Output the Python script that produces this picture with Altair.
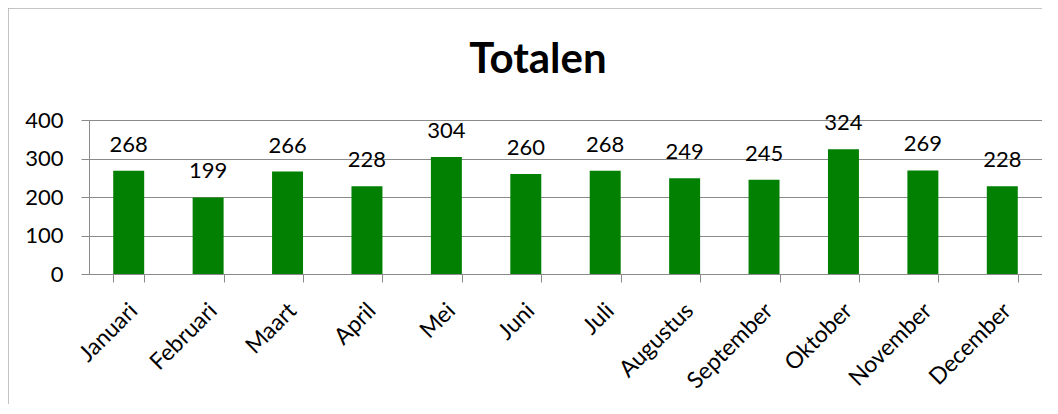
import altair as alt
import pandas as pd

months = ["Januari", "Februari", "Maart", "April", "Mei", "Juni", "Juli",
          "Augustus", "September", "Oktober", "November", "December"]
totals = [268, 199, 266, 228, 304, 260, 268, 249, 245, 324, 269, 228]
y_ticks = [0, 100, 200, 300, 400]

df = pd.DataFrame({"maand": months, "totaal": totals})

FONT = "Lato"
W, H = 953, 154

x = alt.X("maand:N", sort=months, title=None,
          scale=alt.Scale(paddingInner=0.61, paddingOuter=0.305),
          axis=alt.Axis(labelAngle=-45, labelFont=FONT, labelFontSize=23,
                        labelColor="black", tickBand="extent", tickSize=8,
                        tickColor="#8a8a8a", domainColor="#8a8a8a",
                        labelPadding=17, labelOffset=-3, grid=False))
y = alt.Y("totaal:Q", title=None,
          scale=alt.Scale(domain=[0, 400], nice=False),
          axis=alt.Axis(values=y_ticks, labelFont=FONT, labelFontSize=22,
                        labelColor="black", tickSize=8, tickColor="#8a8a8a",
                        domainColor="#8a8a8a", gridColor="#8a8a8a",
                        labelPadding=18, labelOverlap=False))

base = alt.Chart(df).encode(x=x, y=y)
bars = base.mark_bar(color="#028002")
labels = base.mark_text(font=FONT, fontSize=22, color="black",
                        baseline="alphabetic", dy=-19).encode(text="totaal:Q")

one = alt.Chart(pd.DataFrame({"a": [0]}))
top_line = one.mark_rule(color="#b0b0b0", strokeWidth=1.5).encode(
    x=alt.value(-81), x2=alt.value(W + 40), y=alt.value(-112))
left_line = one.mark_rule(color="#b0b0b0", strokeWidth=1.5).encode(
    x=alt.value(-81), y=alt.value(-112), y2=alt.value(H + 160))
title = one.mark_text(text="Totalen", font=FONT, fontSize=42, fontWeight="bold",
                      color="black", align="center", baseline="alphabetic").encode(
    x=alt.value(449), y=alt.value(-47))

chart = alt.layer(top_line, left_line, bars, labels, title).properties(
    width=W, height=H,
    autosize=alt.AutoSizeParams(type="none"),
    padding={"left": 81, "top": 112, "right": 0, "bottom": 130},
).configure_view(stroke=None)

chart.save("out.html", embed_options={"renderer": "svg", "actions": False})
